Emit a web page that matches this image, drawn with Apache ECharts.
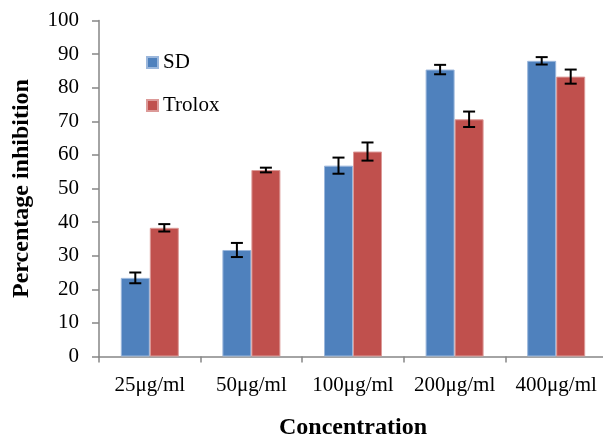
<!DOCTYPE html>
<html>
<head>
<meta charset="utf-8">
<script src="https://cdn.jsdelivr.net/npm/echarts@6/dist/echarts.min.js"></script>
<style>
  html, body { margin: 0; padding: 0; background: #fff; }
  #chart { width: 603px; height: 435px; }
</style>
</head>
<body>
<div id="chart"></div>
<script>
// data
const categories = ['25μg/ml', '50μg/ml', '100μg/ml', '200μg/ml', '400μg/ml'];
const sdValues = [23.4, 31.7, 56.8, 85.4, 88.0];
const sdErrors = [1.6, 2.1, 2.4, 1.4, 1.1];
const troloxValues = [38.3, 55.5, 61.0, 70.6, 83.3];
const troloxErrors = [1.1, 0.7, 2.7, 2.3, 2.1];
const yTicks = [0, 10, 20, 30, 40, 50, 60, 70, 80, 90, 100];

const serif = '"Liberation Serif", "Times New Roman", serif';
const axisGray = '#868686';
const barWidth = 29;

const myChart = echarts.init(document.getElementById('chart'));

// error bars: one item per value, shifted to its bar centre
function errorSeries(values, errors, shift) {
	return {
		type: 'custom',
		z: 5,
		silent: true,
		data: values.map((v, i) => [i, v - errors[i], v + errors[i]]),
		renderItem: function (params, api) {
			const lo = api.coord([api.value(0), api.value(1)]);
			const hi = api.coord([api.value(0), api.value(2)]);
			const x = lo[0] + shift;
			const cap = 6;
			const style = { stroke: '#000', lineWidth: 2 };
			return {
				type: 'group',
				children: [
					{ type: 'line', shape: { x1: x, y1: lo[1], x2: x, y2: hi[1] }, style: style },
					{ type: 'line', shape: { x1: x - cap, y1: lo[1], x2: x + cap, y2: lo[1] }, style: style },
					{ type: 'line', shape: { x1: x - cap, y1: hi[1], x2: x + cap, y2: hi[1] }, style: style }
				]
			};
		}
	};
}

const option = {
	backgroundColor: '#fff',
	animation: false,
	grid: {
		left: 99,
		top: 20.5,
		width: 508,
		height: 336,
		outerBoundsMode: 'none',
		containLabel: false
	},
	legend: {
		orient: 'vertical',
		left: 146,
		top: 52,
		padding: 0,
		icon: 'rect',
		itemWidth: 11,
		itemHeight: 11,
		itemGap: 22,
		data: ['SD', 'Trolox'],
		textStyle: {
			fontFamily: serif,
			fontSize: 21,
			color: '#000'
		}
	},
	xAxis: {
		type: 'category',
		data: categories,
		name: 'Concentration',
		nameLocation: 'middle',
		nameGap: 59,
		nameTextStyle: {
			fontFamily: serif,
			fontSize: 24,
			fontWeight: 'bold',
			color: '#000'
		},
		axisLine: { lineStyle: { color: axisGray, width: 1.5 } },
		axisTick: { show: true, length: 6, lineStyle: { color: axisGray, width: 1.5 } },
		axisLabel: {
			interval: 0,
			margin: 18,
			fontFamily: serif,
			fontSize: 21,
			color: '#000'
		}
	},
	yAxis: {
		type: 'value',
		min: yTicks[0],
		max: yTicks[yTicks.length - 1],
		interval: 10,
		name: 'Percentage inhibition',
		nameLocation: 'middle',
		nameGap: 65,
		nameTextStyle: {
			fontFamily: serif,
			fontSize: 24,
			fontWeight: 'bold',
			color: '#000'
		},
		axisLine: { show: true, lineStyle: { color: axisGray, width: 1.5 } },
		axisTick: { show: true, length: 7, lineStyle: { color: axisGray, width: 1.5 } },
		splitLine: { show: false },
		axisLabel: {
			margin: 20,
			fontFamily: serif,
			fontSize: 21,
			color: '#000'
		}
	},
	series: [
		{
			name: 'SD',
			type: 'bar',
			barWidth: barWidth,
			barGap: '0%',
			itemStyle: { color: '#4F81BD', borderColor: '#9bb7dc', borderWidth: 1 },
			data: sdValues
		},
		{
			name: 'Trolox',
			type: 'bar',
			barWidth: barWidth,
			barGap: '0%',
			itemStyle: { color: '#C0504D', borderColor: '#dc9a98', borderWidth: 1 },
			data: troloxValues
		},
		errorSeries(sdValues, sdErrors, -barWidth / 2),
		errorSeries(troloxValues, troloxErrors, barWidth / 2)
	]
};

myChart.setOption(option);
</script>
</body>
</html>
